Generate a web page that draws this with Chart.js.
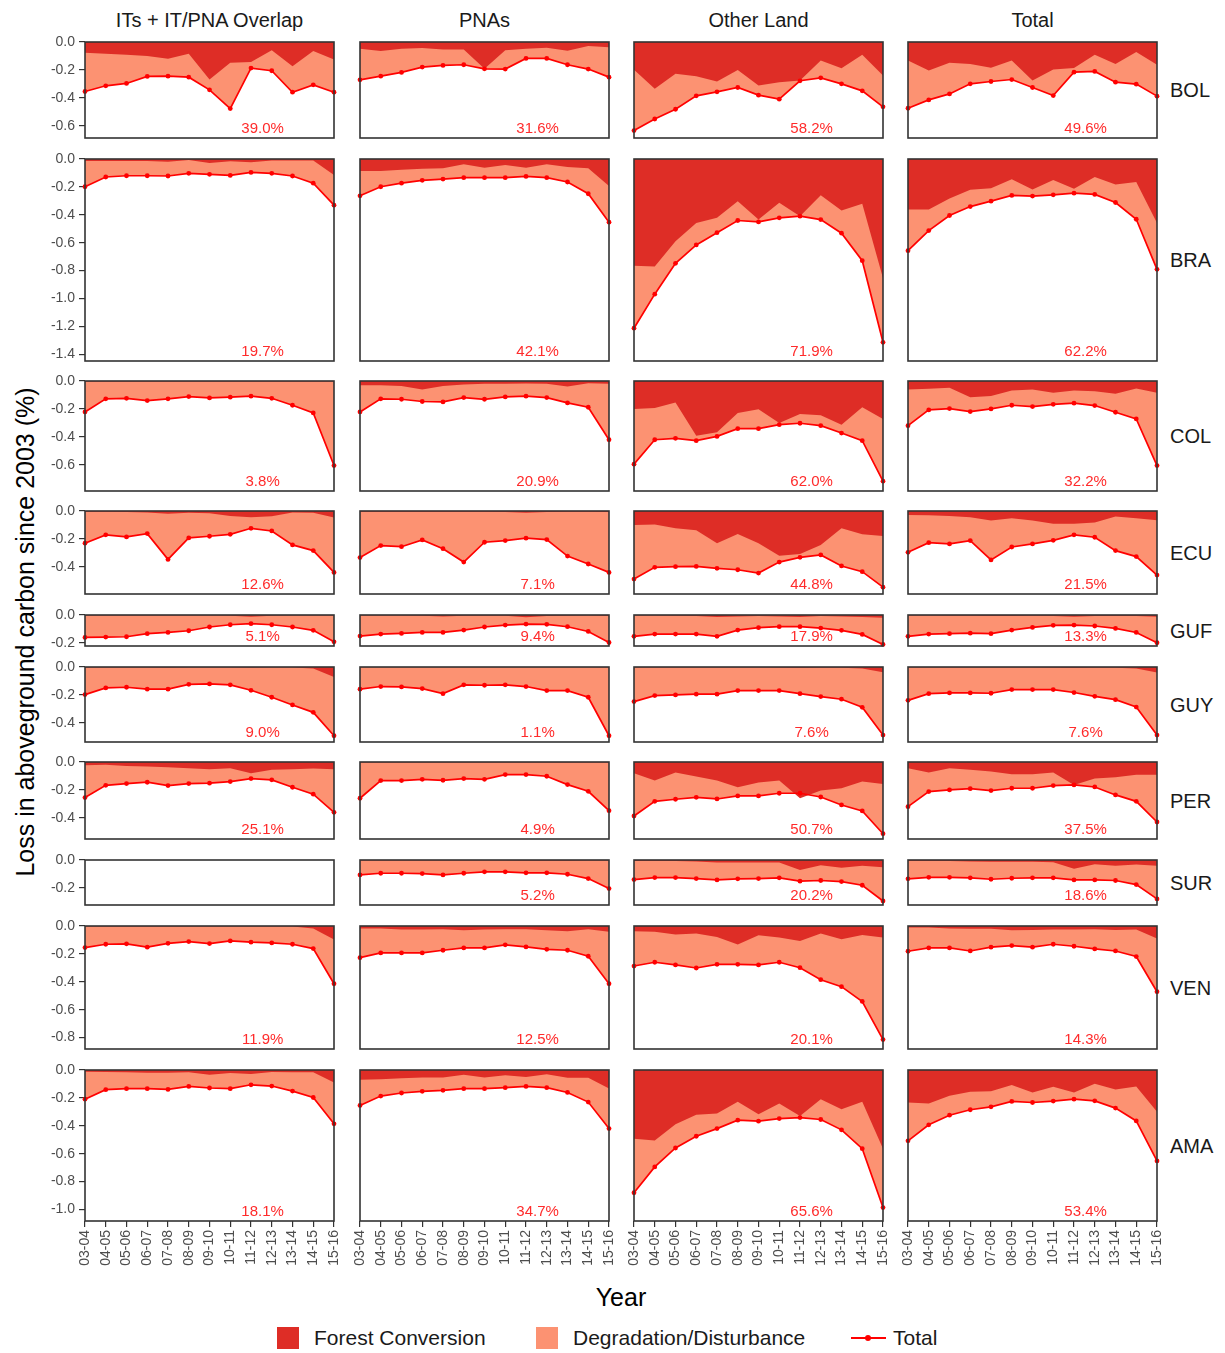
<!DOCTYPE html>
<html>
<head>
<meta charset="utf-8">
<script src="https://cdn.jsdelivr.net/npm/chart.js@4.4.1/dist/chart.umd.min.js"></script>
<style>
  body { margin: 0; background: #fff; font-family: "Liberation Sans", Arial, sans-serif; }
  #page { position: relative; width: 1225px; height: 1353px; overflow: hidden; }
  #page canvas { position: absolute; }
  .strip { position: absolute; top: 8px; font-size: 20px; color: #1a1a1a; white-space: nowrap; transform: translateX(-50%); line-height: 24px; }
  .rowlab { position: absolute; left: 1170px; font-size: 20px; color: #1a1a1a; line-height: 24px; transform: translateY(-50%); }
  .axtitle { position: absolute; font-size: 25px; color: #000; white-space: nowrap; line-height: 30px; }
  .key { position: absolute; width: 22px; height: 22px; top: 1327px; }
  .keytxt { position: absolute; top: 1325px; font-size: 21px; line-height: 26px; color: #1a1a1a; white-space: nowrap; }
</style>
</head>
<body>
<div id="page">
  <div class="axtitle" style="left:25px;top:632px;transform:translate(-50%,-50%) rotate(-90deg);">Loss in aboveground carbon since 2003 (%)</div>
  <div class="axtitle" style="left:621px;top:1297px;transform:translate(-50%,-50%);">Year</div>
  <div class="key" style="left:277px;background:#de2d26;"></div>
  <div class="keytxt" style="left:314px;">Forest Conversion</div>
  <div class="key" style="left:536px;background:#fc9272;"></div>
  <div class="keytxt" style="left:573px;">Degradation/Disturbance</div>
  <div style="position:absolute;left:851px;top:1337px;width:35px;height:2px;background:#ff0000;"></div>
  <div style="position:absolute;left:865px;top:1335px;width:6px;height:6px;border-radius:3px;background:#ff0000;"></div>
  <div class="keytxt" style="left:893px;">Total</div>
</div>
<script>
const years = ["03-04", "04-05", "05-06", "06-07", "07-08", "08-09", "09-10",
               "10-11", "11-12", "12-13", "13-14", "14-15", "15-16"];
const columns = ["ITs + IT/PNA Overlap", "PNAs", "Other Land", "Total"];
const regions = ["BOL", "BRA", "COL", "ECU", "GUF", "GUY", "PER", "SUR", "VEN", "AMA"];

// total loss per column (ITs, PNAs, Other Land, Total)
const BOL_total = [
  [-0.355, -0.314, -0.297, -0.247, -0.245, -0.252, -0.343, -0.477, -0.187, -0.206, -0.36, -0.307, -0.36],
  [-0.271, -0.245, -0.218, -0.18, -0.168, -0.163, -0.192, -0.194, -0.118, -0.118, -0.163, -0.194, -0.252],
  [-0.635, -0.552, -0.482, -0.386, -0.357, -0.326, -0.381, -0.41, -0.278, -0.257, -0.30, -0.35, -0.465],
  [-0.475, -0.415, -0.372, -0.30, -0.283, -0.269, -0.326, -0.384, -0.216, -0.211, -0.288, -0.302, -0.388]
];
const BOL_conv = [
  [-0.077, -0.084, -0.091, -0.10, -0.12, -0.084, -0.269, -0.149, -0.144, -0.06, -0.173, -0.065, -0.125],
  [-0.048, -0.065, -0.048, -0.043, -0.053, -0.053, -0.192, -0.06, -0.048, -0.041, -0.062, -0.029, -0.038],
  [-0.199, -0.336, -0.228, -0.245, -0.283, -0.201, -0.312, -0.288, -0.276, -0.132, -0.189, -0.091, -0.24],
  [-0.132, -0.204, -0.149, -0.158, -0.185, -0.132, -0.276, -0.197, -0.187, -0.091, -0.158, -0.072, -0.163]
];
const BOL_pct = ["39.0%", "31.6%", "58.2%", "49.6%"];

const BRA_total = [
  [-0.199, -0.129, -0.12, -0.12, -0.122, -0.103, -0.11, -0.118, -0.096, -0.103, -0.122, -0.173, -0.331],
  [-0.264, -0.199, -0.173, -0.153, -0.144, -0.134, -0.134, -0.134, -0.125, -0.134, -0.165, -0.249, -0.453],
  [-1.213, -0.969, -0.748, -0.616, -0.528, -0.441, -0.451, -0.422, -0.41, -0.434, -0.532, -0.729, -1.314],
  [-0.657, -0.513, -0.405, -0.341, -0.302, -0.261, -0.266, -0.257, -0.245, -0.254, -0.312, -0.432, -0.791]
];
const BRA_conv = [
  [-0.015, -0.015, -0.015, -0.015, -0.019, -0.007, -0.029, -0.017, -0.024, -0.01, -0.01, -0.01, -0.115],
  [-0.086, -0.086, -0.077, -0.07, -0.067, -0.038, -0.062, -0.043, -0.062, -0.038, -0.058, -0.067, -0.194],
  [-0.765, -0.77, -0.59, -0.458, -0.422, -0.302, -0.434, -0.314, -0.41, -0.259, -0.369, -0.321, -0.854],
  [-0.362, -0.362, -0.283, -0.221, -0.209, -0.146, -0.218, -0.151, -0.213, -0.129, -0.182, -0.165, -0.458]
];
const BRA_pct = ["19.7%", "42.1%", "71.9%", "62.2%"];

const COL_total = [
  [-0.222, -0.128, -0.124, -0.14, -0.128, -0.112, -0.121, -0.116, -0.109, -0.124, -0.174, -0.229, -0.606],
  [-0.222, -0.128, -0.131, -0.147, -0.15, -0.119, -0.131, -0.114, -0.109, -0.119, -0.157, -0.188, -0.421],
  [-0.596, -0.421, -0.411, -0.428, -0.397, -0.342, -0.342, -0.313, -0.303, -0.32, -0.373, -0.428, -0.718],
  [-0.32, -0.207, -0.198, -0.219, -0.2, -0.174, -0.183, -0.167, -0.159, -0.176, -0.224, -0.272, -0.606]
];
const COL_conv = [
  [-0.003, -0.003, -0.003, -0.003, -0.003, -0.003, -0.004, -0.003, -0.003, -0.003, -0.003, -0.003, -0.004],
  [-0.03, -0.03, -0.035, -0.061, -0.035, -0.025, -0.02, -0.02, -0.018, -0.02, -0.04, -0.016, -0.02],
  [-0.2, -0.193, -0.155, -0.392, -0.368, -0.229, -0.203, -0.301, -0.236, -0.246, -0.313, -0.188, -0.272],
  [-0.061, -0.056, -0.049, -0.116, -0.107, -0.068, -0.061, -0.085, -0.068, -0.073, -0.092, -0.054, -0.085]
];
const COL_pct = ["3.8%", "20.9%", "62.0%", "32.2%"];

const ECU_total = [
  [-0.231, -0.171, -0.186, -0.162, -0.347, -0.193, -0.181, -0.167, -0.124, -0.143, -0.243, -0.284, -0.44],
  [-0.334, -0.248, -0.256, -0.207, -0.27, -0.366, -0.224, -0.212, -0.195, -0.205, -0.323, -0.38, -0.44],
  [-0.488, -0.404, -0.399, -0.397, -0.411, -0.421, -0.445, -0.366, -0.332, -0.315, -0.394, -0.435, -0.546],
  [-0.296, -0.227, -0.236, -0.212, -0.351, -0.258, -0.236, -0.21, -0.171, -0.188, -0.284, -0.327, -0.459]
];
const ECU_conv = [
  [-0.006, -0.006, -0.008, -0.01, -0.02, -0.013, -0.016, -0.035, -0.045, -0.037, -0.011, -0.013, -0.047],
  [-0.005, -0.005, -0.005, -0.006, -0.005, -0.005, -0.006, -0.008, -0.012, -0.008, -0.006, -0.005, -0.008],
  [-0.1, -0.097, -0.123, -0.138, -0.231, -0.164, -0.231, -0.32, -0.308, -0.243, -0.123, -0.167, -0.179],
  [-0.028, -0.03, -0.035, -0.044, -0.068, -0.052, -0.068, -0.092, -0.092, -0.083, -0.04, -0.052, -0.066]
];
const ECU_pct = ["12.6%", "7.1%", "44.8%", "21.5%"];

const GUF_total = [
  [-0.161, -0.158, -0.156, -0.134, -0.125, -0.113, -0.086, -0.07, -0.062, -0.07, -0.086, -0.11, -0.192],
  [-0.151, -0.137, -0.132, -0.125, -0.125, -0.108, -0.086, -0.072, -0.065, -0.067, -0.084, -0.118, -0.197],
  [-0.153, -0.137, -0.137, -0.137, -0.153, -0.108, -0.091, -0.084, -0.084, -0.094, -0.11, -0.139, -0.211],
  [-0.153, -0.137, -0.134, -0.13, -0.134, -0.108, -0.089, -0.074, -0.072, -0.079, -0.096, -0.125, -0.199]
];
const GUF_conv = [
  [-0.003, -0.003, -0.003, -0.003, -0.003, -0.003, -0.004, -0.006, -0.012, -0.006, -0.003, -0.003, -0.004],
  [-0.004, -0.004, -0.004, -0.005, -0.01, -0.006, -0.005, -0.006, -0.016, -0.008, -0.005, -0.004, -0.008],
  [-0.004, -0.004, -0.005, -0.008, -0.014, -0.01, -0.008, -0.01, -0.014, -0.008, -0.01, -0.014, -0.02],
  [-0.004, -0.004, -0.005, -0.006, -0.008, -0.008, -0.006, -0.007, -0.012, -0.007, -0.007, -0.008, -0.012]
];
const GUF_pct = ["5.1%", "9.4%", "17.9%", "13.3%"];

const GUY_total = [
  [-0.198, -0.15, -0.145, -0.159, -0.159, -0.124, -0.121, -0.128, -0.167, -0.217, -0.272, -0.325, -0.493],
  [-0.159, -0.14, -0.143, -0.155, -0.191, -0.128, -0.131, -0.128, -0.14, -0.169, -0.169, -0.217, -0.493],
  [-0.248, -0.205, -0.2, -0.195, -0.195, -0.169, -0.169, -0.169, -0.191, -0.212, -0.231, -0.289, -0.488],
  [-0.239, -0.191, -0.186, -0.186, -0.188, -0.162, -0.162, -0.162, -0.183, -0.21, -0.234, -0.287, -0.488]
];
const GUY_conv = [
  [-0.003, -0.003, -0.003, -0.003, -0.005, -0.004, -0.003, -0.003, -0.005, -0.004, -0.004, -0.011, -0.071],
  [-0.002, -0.002, -0.002, -0.002, -0.002, -0.002, -0.002, -0.002, -0.002, -0.002, -0.002, -0.002, -0.003],
  [-0.003, -0.003, -0.003, -0.003, -0.004, -0.004, -0.004, -0.005, -0.008, -0.005, -0.005, -0.01, -0.037],
  [-0.003, -0.003, -0.003, -0.003, -0.004, -0.004, -0.004, -0.005, -0.007, -0.005, -0.005, -0.01, -0.04]
];
const GUY_pct = ["9.0%", "1.1%", "7.6%", "7.6%"];

const PER_total = [
  [-0.255, -0.167, -0.155, -0.145, -0.169, -0.155, -0.152, -0.14, -0.119, -0.128, -0.181, -0.231, -0.361],
  [-0.26, -0.133, -0.133, -0.124, -0.131, -0.119, -0.124, -0.09, -0.09, -0.102, -0.162, -0.21, -0.349],
  [-0.387, -0.282, -0.267, -0.253, -0.265, -0.243, -0.243, -0.224, -0.224, -0.251, -0.308, -0.351, -0.514],
  [-0.32, -0.212, -0.2, -0.191, -0.205, -0.188, -0.188, -0.169, -0.164, -0.179, -0.236, -0.282, -0.43]
];
const PER_conv = [
  [-0.023, -0.02, -0.028, -0.032, -0.037, -0.044, -0.052, -0.044, -0.08, -0.056, -0.052, -0.047, -0.052],
  [-0.004, -0.004, -0.004, -0.004, -0.004, -0.004, -0.004, -0.004, -0.004, -0.004, -0.004, -0.004, -0.004],
  [-0.08, -0.133, -0.076, -0.104, -0.133, -0.181, -0.147, -0.133, -0.26, -0.205, -0.188, -0.14, -0.157],
  [-0.044, -0.076, -0.044, -0.056, -0.068, -0.088, -0.088, -0.076, -0.164, -0.119, -0.109, -0.092, -0.092]
];
const PER_pct = ["25.1%", "4.9%", "50.7%", "37.5%"];

const SUR_total = [
  [],
  [-0.107, -0.095, -0.095, -0.097, -0.107, -0.095, -0.085, -0.085, -0.092, -0.092, -0.102, -0.133, -0.205],
  [-0.14, -0.126, -0.126, -0.133, -0.143, -0.135, -0.133, -0.128, -0.152, -0.147, -0.155, -0.181, -0.294],
  [-0.135, -0.124, -0.124, -0.128, -0.138, -0.131, -0.128, -0.128, -0.143, -0.143, -0.147, -0.176, -0.279]
];
const SUR_conv = [
  [],
  [-0.003, -0.003, -0.003, -0.003, -0.003, -0.003, -0.003, -0.003, -0.005, -0.005, -0.005, -0.003, -0.004],
  [-0.008, -0.008, -0.008, -0.011, -0.018, -0.018, -0.018, -0.018, -0.071, -0.037, -0.056, -0.042, -0.052],
  [-0.008, -0.008, -0.008, -0.011, -0.013, -0.013, -0.013, -0.016, -0.062, -0.03, -0.042, -0.032, -0.042]
];
const SUR_pct = ["", "5.2%", "20.2%", "18.6%"];

const VEN_total = [
  [-0.155, -0.131, -0.128, -0.152, -0.124, -0.112, -0.126, -0.107, -0.116, -0.121, -0.131, -0.162, -0.414],
  [-0.227, -0.193, -0.193, -0.193, -0.174, -0.157, -0.157, -0.135, -0.15, -0.167, -0.174, -0.217, -0.414],
  [-0.287, -0.26, -0.279, -0.301, -0.275, -0.275, -0.279, -0.26, -0.299, -0.385, -0.435, -0.541, -0.814],
  [-0.181, -0.157, -0.157, -0.179, -0.152, -0.14, -0.152, -0.131, -0.145, -0.164, -0.179, -0.219, -0.471]
];
const VEN_conv = [
  [-0.003, -0.003, -0.003, -0.004, -0.003, -0.003, -0.004, -0.003, -0.003, -0.003, -0.003, -0.018, -0.097],
  [-0.018, -0.018, -0.025, -0.025, -0.023, -0.03, -0.025, -0.023, -0.023, -0.03, -0.037, -0.023, -0.042],
  [-0.037, -0.042, -0.061, -0.054, -0.078, -0.133, -0.066, -0.083, -0.107, -0.054, -0.095, -0.064, -0.083],
  [-0.011, -0.011, -0.018, -0.02, -0.02, -0.03, -0.028, -0.025, -0.025, -0.023, -0.028, -0.025, -0.09]
];
const VEN_pct = ["11.9%", "12.5%", "20.1%", "14.3%"];

const AMA_total = [
  [-0.209, -0.141, -0.134, -0.134, -0.139, -0.118, -0.129, -0.134, -0.106, -0.115, -0.151, -0.197, -0.386],
  [-0.254, -0.187, -0.165, -0.153, -0.146, -0.134, -0.134, -0.127, -0.118, -0.127, -0.161, -0.23, -0.42],
  [-0.88, -0.695, -0.559, -0.475, -0.42, -0.36, -0.367, -0.348, -0.341, -0.355, -0.429, -0.564, -0.986],
  [-0.508, -0.393, -0.324, -0.285, -0.264, -0.225, -0.233, -0.223, -0.209, -0.221, -0.273, -0.365, -0.652]
];
const AMA_conv = [
  [-0.012, -0.014, -0.017, -0.019, -0.019, -0.017, -0.034, -0.022, -0.029, -0.014, -0.017, -0.017, -0.089],
  [-0.07, -0.067, -0.06, -0.053, -0.053, -0.034, -0.053, -0.038, -0.05, -0.031, -0.055, -0.055, -0.132],
  [-0.492, -0.506, -0.388, -0.321, -0.312, -0.228, -0.317, -0.24, -0.329, -0.209, -0.281, -0.228, -0.564],
  [-0.233, -0.24, -0.185, -0.156, -0.153, -0.108, -0.161, -0.12, -0.161, -0.098, -0.139, -0.118, -0.3]
];
const AMA_pct = ["18.1%", "34.7%", "65.6%", "53.4%"];

const totalsByRegion = { BOL: BOL_total, BRA: BRA_total, COL: COL_total, ECU: ECU_total, GUF: GUF_total,
                         GUY: GUY_total, PER: PER_total, SUR: SUR_total, VEN: VEN_total, AMA: AMA_total };
const convByRegion = { BOL: BOL_conv, BRA: BRA_conv, COL: COL_conv, ECU: ECU_conv, GUF: GUF_conv,
                       GUY: GUY_conv, PER: PER_conv, SUR: SUR_conv, VEN: VEN_conv, AMA: AMA_conv };
const pctByRegion = { BOL: BOL_pct, BRA: BRA_pct, COL: COL_pct, ECU: ECU_pct, GUF: GUF_pct,
                      GUY: GUY_pct, PER: PER_pct, SUR: SUR_pct, VEN: VEN_pct, AMA: AMA_pct };

// layout of the facet grid (pixels)
const colLeft = [85, 360, 634, 908];
const panelW = 249;
const rowTop = [42, 159, 381, 511, 615, 667, 762, 860, 926, 1070];
const rowH = [96, 202, 110, 83, 31, 75, 77, 45, 123, 151];
const pxPerUnit = 139.5;   // same y scale in every row
const labelAt = 8.56;      // x position (category index) of the % label
const M = 8;

const CONV = "#de2d26", DEG = "#fc9272", LINE = "#ff0000";
const FONT = "'Liberation Sans', Arial, sans-serif";

const page = document.getElementById("page");

columns.forEach((c, j) => {
    const d = document.createElement("div");
    d.className = "strip";
    d.style.left = (colLeft[j] + panelW / 2) + "px";
    d.textContent = c;
    page.appendChild(d);
});
regions.forEach((r, i) => {
    const d = document.createElement("div");
    d.className = "rowlab";
    d.style.top = (rowTop[i] + rowH[i] / 2) + "px";
    d.textContent = r;
    page.appendChild(d);
});

// panel border on top of everything
const panelBox = {
    id: "panelBox",
    afterDraw(chart) {
        const a = chart.chartArea, ctx = chart.ctx;
        ctx.save();
        ctx.strokeStyle = "#333333";
        ctx.lineWidth = 1.6;
        ctx.strokeRect(a.left, a.top, a.right - a.left, a.bottom - a.top);
        ctx.restore();
    }
};

// share label in each panel
const pctLabel = {
    id: "pctLabel",
    afterDatasetsDraw(chart, args, opts) {
        if (!opts.text) return;
        const ctx = chart.ctx;
        ctx.save();
        ctx.font = "15px " + FONT;
        ctx.fillStyle = "#ff2b2b";
        ctx.textAlign = "center";
        ctx.textBaseline = "middle";
        ctx.fillText(opts.text, chart.scales.x.getPixelForValue(labelAt), chart.chartArea.bottom - 9);
        ctx.restore();
    }
};

const X_AXIS_H = 62, Y_AXIS_W = 85;

regions.forEach((region, i) => {
    const lastRow = i === regions.length - 1;
    const yMin = -rowH[i] / pxPerUnit;
    columns.forEach((col, j) => {
        const firstCol = j === 0;
        const total = totalsByRegion[region][j];
        const conv = convByRegion[region][j];
        const padL = firstCol ? Y_AXIS_W : M;
        const padB = lastRow ? X_AXIS_H : M;
        const w = panelW + padL + M;
        const h = rowH[i] + M + padB;

        const canvas = document.createElement("canvas");
        canvas.width = w;
        canvas.height = h;
        canvas.style.width = w + "px";
        canvas.style.height = h + "px";
        canvas.style.left = (colLeft[j] - padL) + "px";
        canvas.style.top = (rowTop[i] - M) + "px";
        page.appendChild(canvas);

        const xAxis = {
            display: lastRow,
            ticks: {
                autoSkip: false,
                maxRotation: 90,
                minRotation: 90,
                padding: 3,
                color: "#4d4d4d",
                font: { size: 14, family: FONT }
            },
            grid: { drawOnChartArea: false, drawTicks: true, tickLength: 6, color: "#333333", lineWidth: 1.2 },
            border: { display: false }
        };
        if (lastRow) {
            xAxis.afterFit = (s) => { s.height = X_AXIS_H; s.paddingLeft = 0; s.paddingRight = 0; };
        }

        const yAxis = {
            display: firstCol,
            min: yMin,
            max: 0,
            ticks: {
                stepSize: 0.2,
                includeBounds: false,
                autoSkip: false,
                padding: 4,
                color: "#4d4d4d",
                font: { size: 14, family: FONT },
                callback: (v) => v.toFixed(1)
            },
            grid: { drawOnChartArea: false, drawTicks: true, tickLength: 6, color: "#333333", lineWidth: 1.2 },
            border: { display: false }
        };
        if (firstCol) {
            yAxis.afterFit = (s) => { s.width = Y_AXIS_W; s.paddingTop = 0; s.paddingBottom = 0; };
        }

        new Chart(canvas.getContext("2d"), {
            type: "line",
            data: {
                labels: years,
                datasets: [
                    {
                        label: "Total",
                        data: total,
                        borderColor: LINE,
                        borderWidth: 1.7,
                        pointRadius: 2.4,
                        pointBackgroundColor: LINE,
                        pointBorderWidth: 0,
                        fill: false,
                        tension: 0,
                        clip: false
                    },
                    {
                        label: "Forest Conversion",
                        data: conv,
                        borderColor: "rgba(0,0,0,0)",
                        borderWidth: 0,
                        pointRadius: 0,
                        backgroundColor: CONV,
                        fill: "origin",
                        tension: 0
                    },
                    {
                        label: "Degradation/Disturbance",
                        data: total,
                        borderColor: "rgba(0,0,0,0)",
                        borderWidth: 0,
                        pointRadius: 0,
                        backgroundColor: DEG,
                        fill: "origin",
                        tension: 0
                    }
                ]
            },
            options: {
                responsive: false,
                animation: false,
                events: [],
                layout: { padding: { left: firstCol ? 0 : M, right: M, top: M, bottom: lastRow ? 0 : M } },
                plugins: {
                    legend: { display: false },
                    tooltip: { enabled: false },
                    pctLabel: { text: pctByRegion[region][j] }
                },
                scales: { x: xAxis, y: yAxis }
            },
            plugins: [pctLabel, panelBox]
        });
    });
});
</script>
</body>
</html>
